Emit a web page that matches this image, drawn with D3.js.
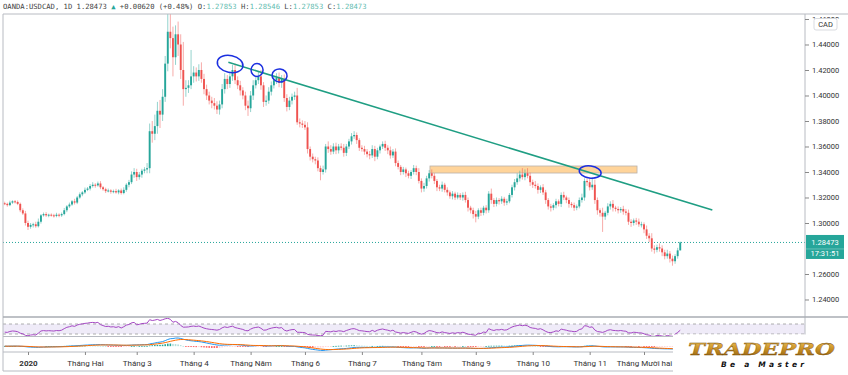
<!DOCTYPE html>
<html>
<head>
<meta charset="utf-8">
<script src="https://cdn.jsdelivr.net/npm/d3@7"></script>
<style>
body { margin: 0; background: #fff; }
svg { display: block; font-family: Roboto, "Liberation Sans", sans-serif; }
</style>
</head>
<body>
<svg id="chart" width="848" height="375"></svg>
<script>
// USD/CAD daily closes, 18 Dec 2019 -> 21 Dec 2020
var closes = [
  1.3150,1.3140,1.3160,1.3170,1.3165,1.3150,1.3100,1.3075,1.3000,1.2970,
  1.2985,1.2990,1.2975,1.3010,1.3060,1.3070,1.3060,1.3065,1.3060,1.3055,
  1.3065,1.3060,1.3070,1.3100,1.3130,1.3145,1.3170,1.3160,1.3200,1.3225,
  1.3240,1.3260,1.3270,1.3290,1.3300,1.3295,1.3310,1.3280,1.3265,1.3250,
  1.3255,1.3245,1.3250,1.3240,1.3255,1.3235,1.3260,1.3300,1.3320,1.3380,
  1.3400,1.3360,1.3380,1.3410,1.3420,1.3430,1.3720,1.3700,1.3760,1.3880,
  1.3850,1.3990,1.4250,1.4500,1.4450,1.4300,1.4480,1.4400,1.4200,1.4050,
  1.4060,1.4080,1.4150,1.4180,1.4150,1.4200,1.4130,1.4050,1.4000,1.3960,
  1.3940,1.3920,1.3890,1.3930,1.4050,1.4130,1.4090,1.4150,1.4200,1.4120,
  1.4080,1.4040,1.4000,1.3920,1.3900,1.4000,1.4080,1.4120,1.4150,1.4080,
  1.3950,1.3960,1.4030,1.4080,1.4120,1.4140,1.4100,1.4130,1.3980,1.3910,
  1.3960,1.3990,1.4000,1.3790,1.3780,1.3770,1.3750,1.3580,1.3520,1.3500,
  1.3490,1.3430,1.3400,1.3420,1.3600,1.3580,1.3560,1.3600,1.3570,1.3600,
  1.3590,1.3550,1.3600,1.3640,1.3680,1.3690,1.3650,1.3590,1.3580,1.3560,
  1.3540,1.3530,1.3580,1.3520,1.3570,1.3600,1.3620,1.3590,1.3570,1.3530,
  1.3560,1.3470,1.3440,1.3400,1.3420,1.3390,1.3370,1.3400,1.3430,1.3400,
  1.3330,1.3270,1.3290,1.3350,1.3390,1.3370,1.3330,1.3280,1.3270,1.3300,
  1.3260,1.3240,1.3210,1.3230,1.3200,1.3220,1.3200,1.3220,1.3180,1.3120,
  1.3100,1.3070,1.3050,1.3100,1.3080,1.3120,1.3100,1.3230,1.3180,1.3150,
  1.3180,1.3170,1.3190,1.3160,1.3170,1.3220,1.3280,1.3320,1.3350,1.3380,
  1.3360,1.3390,1.3370,1.3320,1.3300,1.3290,1.3260,1.3280,1.3240,1.3180,
  1.3130,1.3120,1.3140,1.3170,1.3150,1.3220,1.3200,1.3180,1.3150,1.3140,
  1.3120,1.3130,1.3180,1.3200,1.3330,1.3320,1.3280,1.3300,1.3180,1.3100,
  1.3080,1.3050,1.3080,1.3130,1.3150,1.3120,1.3110,1.3100,1.3110,1.3090,
  1.3080,1.3010,1.3000,1.3020,1.3010,1.2990,1.2990,1.2950,1.2900,1.2880,
  1.2800,1.2790,1.2810,1.2800,1.2770,1.2740,1.2760,1.2720,1.2700,1.2740,
  1.27853,1.28473
];
var firstOpen = 1.3155;

// wick lengths above / below the body, in pips
var upperWick = [
  12,10,15,8,10,12,10,15,20,18,
  15,12,20,25,10,12,15,8,10,12,
  15,10,12,18,10,15,10,20,12,15,
  10,18,12,15,20,12,15,18,10,12,
  15,10,12,18,10,15,20,12,18,25,
  30,25,20,15,18,40,60,80,90,70,
  85,60,60,140,167,90,70,100,80,220,
  60,40,207,50,40,45,60,40,35,30,
  30,40,35,30,40,45,30,35,40,50,
  30,35,25,30,40,35,40,30,35,50,
  25,40,35,30,30,35,40,30,35,30,
  30,25,30,60,30,25,30,40,20,25,
  20,25,20,30,20,40,30,25,30,20,
  25,30,20,20,25,30,20,15,20,25,
  20,25,30,25,20,15,20,25,20,30,
  20,25,20,15,20,15,20,15,25,20,
  30,20,25,20,25,30,20,15,20,25,
  15,20,15,20,15,20,15,20,25,20,
  15,20,25,15,20,15,20,20,40,15,
  20,15,20,15,20,15,20,25,40,30,
  50,30,40,25,20,30,20,15,25,20,
  15,20,15,20,15,20,25,15,20,15,
  20,15,20,30,20,25,35,60,40,20,
  15,40,15,25,20,30,15,20,15,25,
  20,25,20,15,20,25,20,15,30,20,
  40,25,20,30,25,20,30,20,25,15,
  20,7.3
];
var lowerWick = [
  10,12,8,10,12,10,15,12,20,25,
  15,20,12,10,15,10,12,15,10,12,
  10,15,12,10,15,12,10,15,12,10,
  15,12,10,15,12,18,10,15,12,15,
  10,15,12,10,15,12,10,15,20,15,
  25,30,20,25,20,30,40,70,50,60,
  105,50,40,60,80,150,60,90,70,130,
  60,40,30,50,40,35,30,40,35,30,
  40,30,35,40,30,35,40,30,35,30,
  30,40,30,35,60,30,35,25,30,35,
  40,30,25,30,25,30,35,40,30,35,
  25,30,25,20,30,25,20,35,30,25,
  30,25,65,20,25,30,25,20,30,25,
  20,30,25,20,25,20,30,25,20,25,
  25,30,20,35,20,25,20,25,30,25,
  20,25,20,25,20,30,20,25,20,25,
  20,30,25,20,25,20,25,30,20,25,
  20,25,20,25,20,15,20,25,20,30,
  25,35,45,20,25,20,25,20,30,25,
  20,25,20,25,20,15,20,25,20,25,
  20,25,20,30,25,20,30,25,20,30,
  25,30,20,25,20,25,20,25,30,20,
  25,20,15,20,25,30,25,20,30,35,
  30,120,25,20,25,30,20,25,20,25,
  20,25,30,20,25,20,25,30,25,30,
  25,30,20,25,30,25,20,30,35,20,
  20,0
];

// month starts (bar index) and their labels
var monthIdx = [9, 31, 51, 73, 95, 116, 138, 161, 182, 204, 226, 247];
var monthLabels = ["2020", "Tháng Hai", "Tháng 3", "Tháng 4", "Tháng Năm", "Tháng 6",
  "Tháng 7", "Tháng Tám", "Tháng 9", "Tháng 10", "Tháng 11", "Tháng Mười hai"];
// 1.28 sits under the last-price tag, so it is not listed
var priceTicks = [1.24, 1.26, 1.30, 1.32, 1.34, 1.36, 1.38, 1.40, 1.42, 1.44, 1.46];
var lastPrice = 1.28473;
var countdown = "17:31:51";

// drawings on the chart (bar index / price)
var trendLine = [{i: 86.4, p: 1.4260}, {i: 273.4, p: 1.3102}];
var zoneBox = {i0: 164.3, i1: 244.3, pTop: 1.3447, pBot: 1.3392};
var rings = [{i: 87.1, p: 1.4247}, {i: 97.5, p: 1.4200}, {i: 106.2, p: 1.4157}, {i: 226.2, p: 1.3400}];

var UP = "#26a69a", DOWN = "#ef5350";

var candles = closes.map(function(c, i) {
  var o = i === 0 ? firstOpen : closes[i - 1];
  return {i: i, o: o, c: c,
    h: Math.max(o, c) + upperWick[i] / 10000,
    l: Math.min(o, c) - lowerWick[i] / 10000};
});

var svg = d3.select("#chart");

var x = d3.scaleLinear().domain([-1.82, 309.2]).range([0, 805]);
var y = d3.scaleLinear().domain([1.22627, 1.46392]).range([317, 14]);

var defs = svg.append("defs");
defs.append("clipPath").attr("id", "clipMain")
  .append("rect").attr("x", 3).attr("y", 14).attr("width", 802).attr("height", 303);
defs.append("clipPath").attr("id", "clipRsi")
  .append("rect").attr("x", 3).attr("y", 318).attr("width", 802).attr("height", 18);
defs.append("clipPath").attr("id", "clipMacd")
  .append("rect").attr("x", 3).attr("y", 337).attr("width", 802).attr("height", 15);
defs.append("clipPath").attr("id", "clipTop")
  .append("rect").attr("x", 806).attr("y", 14).attr("width", 42).attr("height", 4.5);
var grad = defs.append("linearGradient").attr("id", "gold")
  .attr("x1", 0).attr("y1", 0).attr("x2", 0).attr("y2", 1);
grad.append("stop").attr("offset", "0%").attr("stop-color", "#f0c25a");
grad.append("stop").attr("offset", "50%").attr("stop-color", "#c68e22");
grad.append("stop").attr("offset", "100%").attr("stop-color", "#8a5810");

// ---- main pane ----
var main = svg.append("g").attr("clip-path", "url(#clipMain)");

// support zone
main.append("rect")
  .attr("x", x(zoneBox.i0)).attr("y", y(zoneBox.pTop))
  .attr("width", x(zoneBox.i1) - x(zoneBox.i0))
  .attr("height", y(zoneBox.pBot) - y(zoneBox.pTop))
  .attr("fill", "#ffcf8f").attr("fill-opacity", 0.9)
  .attr("stroke", "#b9b2aa").attr("stroke-width", 0.8);

// last price dotted line
main.append("line")
  .attr("x1", 3).attr("x2", 805)
  .attr("y1", y(lastPrice)).attr("y2", y(lastPrice))
  .attr("stroke", UP).attr("stroke-width", 1).attr("stroke-dasharray", "1,2");

// candles
var cg = main.selectAll("g.candle").data(candles).enter().append("g").attr("class", "candle");
cg.append("line")
  .attr("x1", function(d) { return x(d.i); })
  .attr("x2", function(d) { return x(d.i); })
  .attr("y1", function(d) { return y(d.h); })
  .attr("y2", function(d) { return y(d.l); })
  .attr("stroke", function(d) { return d.c >= d.o ? UP : DOWN; })
  .attr("stroke-opacity", 0.55)
  .attr("stroke-width", 0.9);
cg.append("rect")
  .attr("x", function(d) { return x(d.i) - 0.95; })
  .attr("width", 1.9)
  .attr("y", function(d) { return y(Math.max(d.o, d.c)); })
  .attr("height", function(d) { return Math.max(1, Math.abs(y(d.o) - y(d.c))); })
  .attr("fill", function(d) { return d.c >= d.o ? UP : DOWN; });

// trend line
main.append("line")
  .attr("x1", x(trendLine[0].i)).attr("y1", y(trendLine[0].p))
  .attr("x2", x(trendLine[1].i)).attr("y2", y(trendLine[1].p))
  .attr("stroke", "#1f9e83").attr("stroke-width", 1.6);

// hand drawn rings
var ringSize = [[13, 8.5, 12], [6, 6.5, 0], [7.5, 6.5, 5], [11, 6, 8]];
main.selectAll("ellipse.ring").data(rings).enter().append("ellipse")
  .attr("class", "ring")
  .attr("cx", 0).attr("cy", 0)
  .attr("rx", function(d, k) { return ringSize[k][0]; })
  .attr("ry", function(d, k) { return ringSize[k][1]; })
  .attr("transform", function(d, k) {
    return "translate(" + x(d.i) + "," + y(d.p) + ") rotate(" + ringSize[k][2] + ")";
  })
  .attr("fill", "none").attr("stroke", "#1b2fe0").attr("stroke-width", 1.5);

// ---- indicators ----
// RSI 14 (Wilder)
var diffs = closes.map(function(c, i) { return i === 0 ? 0 : c - closes[i - 1]; });
var ag = d3.mean(diffs.slice(1, 15), function(d) { return Math.max(d, 0); });
var al = d3.mean(diffs.slice(1, 15), function(d) { return Math.max(-d, 0); });
var rsi = [];
diffs.forEach(function(d, i) {
  if (i > 0) {
    ag = (ag * 13 + Math.max(d, 0)) / 14;
    al = (al * 13 + Math.max(-d, 0)) / 14;
  }
  rsi.push({i: i, v: al === 0 ? 100 : 100 - 100 / (1 + ag / al)});
});

// MACD 12/26/9
function ema(arr, n) {
  var k = 2 / (n + 1), out = [], prev = arr[0];
  arr.forEach(function(v, i) { prev = i === 0 ? v : v * k + prev * (1 - k); out.push(prev); });
  return out;
}
var e12 = ema(closes, 12), e26 = ema(closes, 26);
var macd = e12.map(function(v, i) { return v - e26[i]; });
var signal = ema(macd, 9);
var hist = macd.map(function(v, i) { return v - signal[i]; });

// RSI pane
var ry = d3.scaleLinear().domain([0, 100]).range([341.5, 316.5]);
var rsiG = svg.append("g").attr("clip-path", "url(#clipRsi)");
rsiG.append("rect")
  .attr("x", 3).attr("width", 802)
  .attr("y", ry(70)).attr("height", ry(30) - ry(70))
  .attr("fill", "#7e57c2").attr("fill-opacity", 0.12);
[70, 30].forEach(function(lv) {
  rsiG.append("line").attr("x1", 3).attr("x2", 805)
    .attr("y1", ry(lv)).attr("y2", ry(lv))
    .attr("stroke", "#9a9a9a").attr("stroke-width", 0.8).attr("stroke-dasharray", "3,3");
});
rsiG.append("path").datum(rsi)
  .attr("d", d3.line().x(function(d) { return x(d.i); }).y(function(d) { return ry(d.v); }))
  .attr("fill", "none").attr("stroke", "#a548c4").attr("stroke-width", 1);

// MACD pane
var mext = d3.extent(macd.concat(signal, hist));
var my = d3.scaleLinear().domain(mext).range([350.5, 338]);
var macdG = svg.append("g").attr("clip-path", "url(#clipMacd)");
macdG.selectAll("rect.hist").data(hist).enter().append("rect")
  .attr("class", "hist")
  .attr("x", function(d, i) { return x(i) - 0.8; })
  .attr("width", 1.6)
  .attr("y", function(d) { return Math.min(my(d), my(0)); })
  .attr("height", function(d) { return Math.max(0.8, Math.abs(my(d) - my(0))); })
  .attr("fill", function(d, i) {
    var prev = i === 0 ? 0 : hist[i - 1];
    if (d >= 0) return d >= prev ? "#26a69a" : "#b2dfdb";
    return d <= prev ? "#ff5252" : "#ffcdd2";
  });
macdG.append("path").datum(macd)
  .attr("d", d3.line().x(function(d, i) { return x(i); }).y(function(d) { return my(d); }))
  .attr("fill", "none").attr("stroke", "#2196f3").attr("stroke-width", 1);
macdG.append("path").datum(signal)
  .attr("d", d3.line().x(function(d, i) { return x(i); }).y(function(d) { return my(d); }))
  .attr("fill", "none").attr("stroke", "#ff6d00").attr("stroke-width", 1);

// ---- frame & separators ----
var frame = "#b8bbc2";
svg.append("line").attr("x1", 3).attr("x2", 848).attr("y1", 14).attr("y2", 14).attr("stroke", frame);
svg.append("line").attr("x1", 3).attr("x2", 3).attr("y1", 14).attr("y2", 371).attr("stroke", frame);
svg.append("line").attr("x1", 805).attr("x2", 805).attr("y1", 14).attr("y2", 352).attr("stroke", frame);
[317, 336.5, 352].forEach(function(yy, k) {
  svg.append("line").attr("x1", 3).attr("x2", 848).attr("y1", yy).attr("y2", yy)
    .attr("stroke", k === 0 ? "#a9acb3" : frame).attr("stroke-width", k === 0 ? 1.6 : 1);
});
svg.append("line").attr("x1", 3).attr("x2", 848).attr("y1", 371).attr("y2", 371).attr("stroke", frame);

// price axis (top label is drawn separately, half hidden under the CAD badge)
var topTick = priceTicks[priceTicks.length - 1];
var yAxis = svg.append("g").attr("transform", "translate(805,0)")
  .call(d3.axisRight(y).tickValues(priceTicks).tickSize(4).tickPadding(3)
    .tickFormat(function(d) { return d === topTick ? "" : d3.format(".5f")(d); }));
yAxis.select(".domain").remove();
yAxis.selectAll("line").attr("stroke", "#888");
yAxis.selectAll("text").attr("font-size", "7.5px").attr("fill", "#333")
  .attr("font-family", "Roboto, sans-serif");
svg.append("text").attr("x", 812).attr("y", y(topTick) + 2.6)
  .attr("clip-path", "url(#clipTop)")
  .attr("font-size", "7.5px").attr("fill", "#333").text(d3.format(".5f")(topTick));

// time axis
var xAxis = svg.append("g").attr("transform", "translate(0,352)")
  .call(d3.axisBottom(x).tickValues(monthIdx).tickSize(3).tickPadding(5)
    .tickFormat(function(d, k) { return monthLabels[k]; }));
xAxis.select(".domain").remove();
xAxis.selectAll("line").attr("stroke", "#888");
xAxis.selectAll("text").attr("font-size", "8px").attr("fill", "#333")
  .attr("font-family", "Roboto, sans-serif");
xAxis.selectAll("text").filter(function(d, k) { return k === 0; }).attr("font-weight", "bold");

// CAD badge
svg.append("rect").attr("x", 814).attr("y", 18.5).attr("width", 23).attr("height", 11.5)
  .attr("rx", 2).attr("fill", "#fff").attr("stroke", "#cfd2d8").attr("stroke-width", 0.8);
svg.append("text").attr("x", 825.5).attr("y", 27).attr("text-anchor", "middle")
  .attr("font-size", "7.5px").attr("fill", "#333").text("CAD");

// last price tag + countdown
svg.append("rect").attr("x", 806).attr("y", y(lastPrice) - 7.5).attr("width", 38).attr("height", 24)
  .attr("fill", UP);
svg.append("text").attr("x", 825).attr("y", y(lastPrice) + 2.6).attr("text-anchor", "middle")
  .attr("font-size", "7.5px").attr("fill", "#fff").text(d3.format(".5f")(lastPrice));
svg.append("line").attr("x1", 806).attr("x2", 844)
  .attr("y1", y(lastPrice) + 6.5).attr("y2", y(lastPrice) + 6.5)
  .attr("stroke", "#ffffff").attr("stroke-opacity", 0.5).attr("stroke-width", 0.6);
svg.append("text").attr("x", 825).attr("y", y(lastPrice) + 13.6).attr("text-anchor", "middle")
  .attr("font-size", "7.5px").attr("fill", "#fff").text(countdown);

// header
var last = candles[candles.length - 1], prevC = closes[closes.length - 2];
var f5 = d3.format(".5f");
var head = svg.append("text").attr("x", 3).attr("y", 9)
  .attr("font-family", "'DejaVu Sans Mono', monospace").attr("font-size", "7.2px").attr("fill", "#444");
head.append("tspan").text("OANDA:USDCAD, 1D " + f5(last.c) + " ");
head.append("tspan").attr("fill", UP).text("▲");
head.append("tspan").text(" " + d3.format("+.5f")(last.c - prevC) + " (" +
  d3.format("+.2%")((last.c - prevC) / prevC) + ") O:");
head.append("tspan").attr("fill", "#5fbcb0").text(f5(last.o));
head.append("tspan").text(" H:");
head.append("tspan").attr("fill", "#5fbcb0").text(f5(last.h));
head.append("tspan").text(" L:");
head.append("tspan").attr("fill", "#5fbcb0").text(f5(last.l));
head.append("tspan").text(" C:");
head.append("tspan").attr("fill", "#5fbcb0").text(f5(last.c));

// watermark logo
svg.append("rect").attr("x", 673).attr("y", 334.5).attr("width", 175).attr("height", 41).attr("fill", "#fff");
svg.append("text").attr("x", 688).attr("y", 355)
  .attr("font-family", "'DejaVu Serif', serif").attr("font-weight", "bold").attr("font-style", "italic")
  .attr("font-size", "16.5px").attr("textLength", 147).attr("lengthAdjust", "spacingAndGlyphs")
  .attr("fill", "url(#gold)").attr("stroke", "#7a4c08").attr("stroke-width", 0.3)
  .text("TRADEPRO");
svg.append("text").attr("x", 721).attr("y", 366.5)
  .attr("font-family", "'DejaVu Sans', sans-serif").attr("font-weight", "bold").attr("font-style", "italic")
  .attr("font-size", "7.5px").attr("textLength", 83).attr("lengthAdjust", "spacing")
  .attr("fill", "#111").text("Be a Master");
</script>
</body>
</html>
